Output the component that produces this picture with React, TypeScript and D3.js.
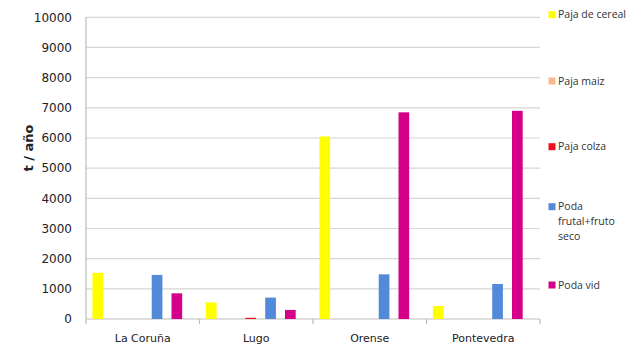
import React from "react";
import * as d3 from "d3";

const categories = ["La Coruña", "Lugo", "Orense", "Pontevedra"];
const seriesNames = ["Paja de cereal", "Paja maiz", "Paja colza", "Poda frutal+fruto seco", "Poda vid"];
const pajaCereal = [1530, 550, 6050, 430];
const pajaMaiz = [0, 0, 0, 0];
const pajaColza = [0, 40, 0, 0];
const podaFrutal = [1460, 710, 1480, 1160];
const podaVid = [850, 300, 6850, 6900];
const yTicks = [0, 1000, 2000, 3000, 4000, 5000, 6000, 7000, 8000, 9000, 10000];
const colors = ["#ffff00", "#f8b98f", "#ee1020", "#5289d8", "#d5008a"];
const legendLines = [["Paja de cereal"], ["Paja maiz"], ["Paja colza"], ["Poda", "frutal+fruto", "seco"], ["Poda vid"]];
const legendY = [14.7, 81, 146.7, 206.7, 285];

const values = [pajaCereal, pajaMaiz, pajaColza, podaFrutal, podaVid];

export default function App() {
  const left = 86, right = 540, top = 17.3, bottom = 319;
  const x0 = d3.scaleBand<string>().domain(categories).range([left, right]).padding(0);
  const x1 = d3.scaleBand<string>().domain(seriesNames).range([0, x0.bandwidth()])
    .paddingInner(0.46).paddingOuter(0.6).align(0.27);
  const y = d3.scaleLinear().domain([0, 10000]).range([bottom, top]);
  const font = "'DejaVu Sans', sans-serif";
  return (
    <svg width={643} height={347} style={{ position: "absolute", left: 0, top: 0, background: "#fff" }}>
      {yTicks.map((t) => (
        <g key={t}>
          <line x1={left} x2={right} y1={y(t)} y2={y(t)} stroke={t === 0 ? "#bdbdbd" : "#d6d6d6"} strokeWidth={1.2} />
          <text x={72} y={y(t)} dy="0.36em" textAnchor="end" fontFamily={font} fontSize={12} fill="#222">{t}</text>
        </g>
      ))}
      <line x1={left} x2={left} y1={top} y2={bottom + 5} stroke="#bdbdbd" strokeWidth={1.2} />
      {categories.map((c, i) => (
        <line key={c} x1={(x0(c) as number) + x0.bandwidth()} x2={(x0(c) as number) + x0.bandwidth()} y1={bottom} y2={bottom + 5} stroke="#bdbdbd" strokeWidth={1.2} />
      ))}
      {categories.map((c, i) => (
        <g key={c}>
          {seriesNames.map((s, j) => {
            const v = values[j][i];
            if (!v) return null;
            return (
              <rect key={s} x={(x0(c) as number) + (x1(s) as number)} width={x1.bandwidth()}
                y={y(v)} height={bottom - y(v)} fill={colors[j]} />
            );
          })}
          <text x={(x0(c) as number) + x0.bandwidth() / 2} y={342} textAnchor="middle" fontFamily={font} fontSize={11} fill="#222">{c}</text>
        </g>
      ))}
      <text transform="translate(33,148) rotate(-90)" textAnchor="middle" fontFamily={font} fontSize={13} fontWeight="bold" fill="#222">t / año</text>
      {seriesNames.map((s, j) => (
        <g key={s}>
          <rect x={548.5} y={legendY[j] - 3.5} width={7} height={7} fill={colors[j]} />
          {legendLines[j].map((ln, k) => (
            <text key={k} x={558} y={legendY[j] + k * 15} dy="0.35em" fontFamily="'Open Sans', sans-serif" fontSize={10.5} fill="#333">{ln}</text>
          ))}
        </g>
      ))}
    </svg>
  );
}
